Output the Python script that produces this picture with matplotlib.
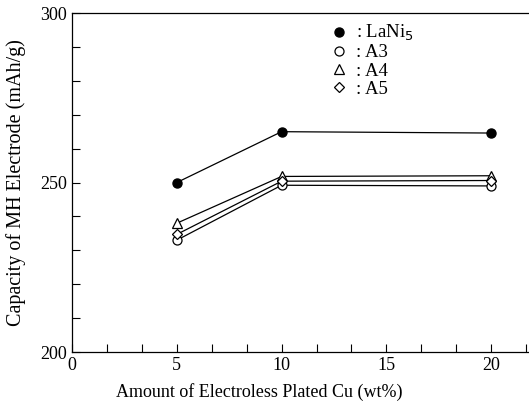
import matplotlib
matplotlib.use("Agg")
import matplotlib.pyplot as plt
from matplotlib.ticker import MultipleLocator

# Amount of electroless plated Cu (wt%)
cu_wt = [5, 10, 20]

# Discharge capacity (mAh/g)
lani5 = [250.0, 265.0, 264.6]
a3 = [233.0, 249.2, 249.0]
a4 = [238.0, 251.8, 252.0]
a5 = [234.7, 250.4, 250.6]

plt.rcParams["font.family"] = ["Liberation Serif", "DejaVu Serif"]

fig = plt.figure(figsize=(5.29, 4.07), dpi=100)
ax = fig.add_axes([0.136, 0.135, 0.864, 0.833])

ax.plot(cu_wt, lani5, color="black", lw=0.9, marker="o", ms=6.5,
        mfc="black", mec="black", label=": LaNi$_5$")
ax.plot(cu_wt, a3, color="black", lw=0.9, marker="o", ms=6.5,
        mfc="white", mec="black", mew=0.9, label=": A3")
ax.plot(cu_wt, a4, color="black", lw=0.9, marker="^", ms=6.5,
        mfc="white", mec="black", mew=0.9, label=": A4")
ax.plot(cu_wt, a5, color="black", lw=0.9, marker="D", ms=5,
        mfc="white", mec="black", mew=0.9, label=": A5")

ax.set_xlim(0, 21.8)
ax.set_ylim(200, 300)
ax.set_xticks([0, 5, 10, 15, 20])
ax.set_yticks([200, 250, 300])
ax.xaxis.set_minor_locator(MultipleLocator(5 / 3))
ax.yaxis.set_minor_locator(MultipleLocator(10))
ax.tick_params(which="both", direction="in", top=False, right=False,
               labelsize=13, width=0.8)
ax.tick_params(which="major", length=6)
ax.tick_params(which="minor", length=6)
ax.spines["right"].set_visible(False)
for s in ["left", "bottom", "top"]:
    ax.spines[s].set_linewidth(0.9)

ax.set_xlabel("Amount of Electroless Plated Cu (wt%)", fontsize=13)
ax.set_ylabel("Capacity of MH Electrode (mAh/g)", fontsize=14.5)
ax.xaxis.set_label_coords(0.41, -0.09)
ax.yaxis.set_label_coords(-0.10, 0.5)

ax.legend(loc="upper left", bbox_to_anchor=(0.535, 1.02), frameon=False,
          handlelength=0.6, handletextpad=0.6, labelspacing=0.05,
          fontsize=13.5, markerscale=1.0)
for h in ax.get_legend().legend_handles:
    h.set_linestyle("none")

fig.savefig("out.png", dpi=100)
